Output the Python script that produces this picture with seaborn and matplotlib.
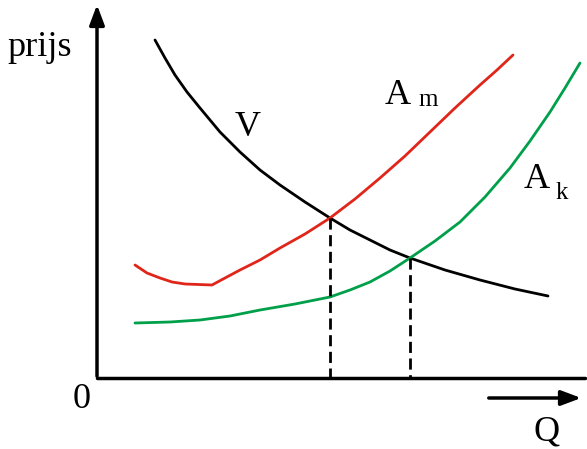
import matplotlib
matplotlib.use("Agg")
import matplotlib.pyplot as plt
import seaborn as sns
import numpy as np

# curve points (pixel space, y down)
v_x = [155, 165, 175, 187, 200, 220, 240, 260, 280, 305, 330, 350, 370, 390, 410, 445, 480, 515, 548]
v_y = [40, 58, 75, 92, 108, 132, 152, 170, 185, 202, 218, 230, 240, 250, 258, 270, 280, 289, 296]
am_x = [135, 147, 160, 172, 185, 212, 225, 240, 260, 280, 305, 330, 355, 380, 405, 430, 455, 480, 497, 513]
am_y = [265, 273, 278, 282, 284, 285, 278, 270, 260, 248, 234, 218, 199, 178, 156, 132, 108, 85, 70, 55]
ak_x = [135, 170, 200, 230, 260, 295, 330, 350, 370, 390, 410, 435, 460, 485, 510, 530, 550, 565, 580]
ak_y = [323, 322, 320, 316, 310, 304, 297, 290, 282, 271, 258, 241, 222, 197, 168, 141, 112, 88, 63]
# intersections -> dashed drops to the Q axis
drop_x = [330, 410]
drop_y = [218, 258]
axis_y = 378

sns.set_style("white")
plt.rcParams['font.family'] = ['Liberation Serif', 'DejaVu Serif']
plt.rcParams['text.color'] = 'black'

fig = plt.figure(figsize=(5.87, 4.49), dpi=100)
ax = fig.add_axes([0, 0, 1, 1])
ax.set_xlim(0, 587)
ax.set_ylim(449, 0)
ax.axis("off")

sns.lineplot(x=v_x, y=v_y, sort=False, color="black", lw=2, ax=ax)
sns.lineplot(x=am_x, y=am_y, sort=False, color="#e0261b", lw=2, ax=ax)
sns.lineplot(x=ak_x, y=ak_y, sort=False, color="#00a04a", lw=2, ax=ax)
for dx, dy in zip(drop_x, drop_y):
    ax.plot([dx, dx], [dy, axis_y], color="black", lw=2, ls=(0, (4, 2)))

# axes with arrows
ax.plot([97, 585], [axis_y, axis_y], color="black", lw=2.5)
ax.annotate("", xy=(97, 2), xytext=(97, axis_y + 1),
            arrowprops=dict(arrowstyle="-|>,head_length=1.2,head_width=0.45", color="black", lw=2.5))
ax.annotate("", xy=(584, 398), xytext=(486, 398),
            arrowprops=dict(arrowstyle="-|>,head_length=1.2,head_width=0.45", color="black", lw=2.5))

fs = 26
ax.text(40, 48, "prijs", fontsize=fs, ha="center", va="center", color="black")
ax.text(82, 400, "0", fontsize=fs, ha="center", va="center", color="black")
ax.text(547, 432, "Q", fontsize=fs, ha="center", va="center", color="black")
ax.text(248, 128, "V", fontsize=fs, ha="center", va="center", color="black")
ax.text(398, 95, "A", fontsize=fs, ha="center", va="center", color="black")
ax.text(428, 100, "m", fontsize=18, ha="center", va="center", color="black")
ax.text(537, 180, "A", fontsize=fs, ha="center", va="center", color="black")
ax.text(562, 193, "k", fontsize=18, ha="center", va="center", color="black")

fig.savefig("out.png", dpi=100)
